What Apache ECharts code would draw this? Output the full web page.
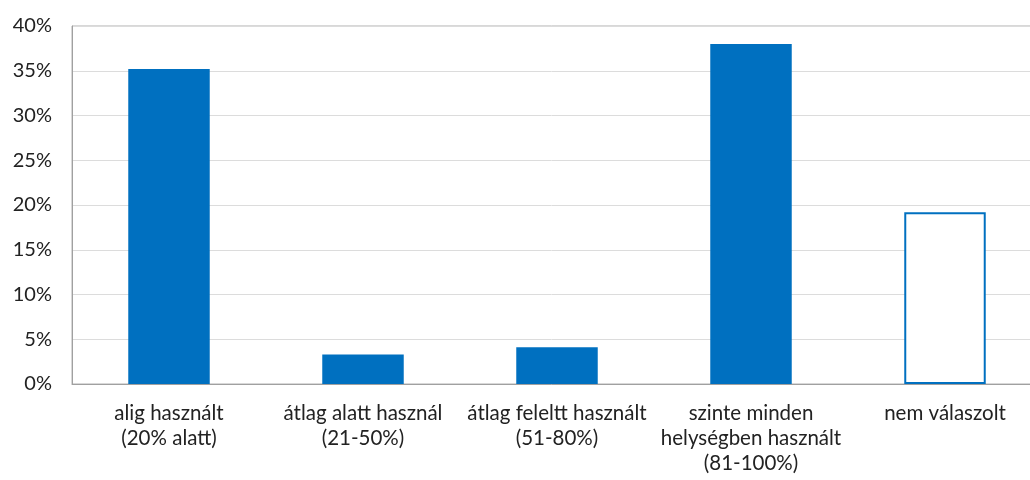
<!DOCTYPE html>
<html>
<head>
<meta charset="utf-8">
<script src="https://cdn.jsdelivr.net/npm/echarts@6/dist/echarts.min.js"></script>
<style>
  html, body { margin: 0; padding: 0; background: #fff; }
  #chart { width: 1030px; height: 480px; }
</style>
</head>
<body>
<div id="chart"></div>
<script>
const categories = [
  'alig használt\n(20% alatt)',
  'átlag alatt használ\n(21-50%)',
  'átlag feleltt használt\n(51-80%)',
  'szinte minden\nhelységben használt\n(81-100%)',
  'nem válaszolt'
]
// százalékos értékek
const values = [35.2, 3.3, 4.1, 38.0, 19.2]
const hollowIndex = 4

const BLUE = '#0070C0'
const FONT = 'Lato, "Open Sans", sans-serif'

const chart = echarts.init(document.getElementById('chart'))

chart.setOption({
  animation: false,
  grid: {
    left: 72, top: 26, bottom: 96, width: 970,
    outerBoundsMode: 'none', containLabel: false,
    show: true, borderColor: '#b0b0b0', borderWidth: 1
  },
  xAxis: {
    type: 'category',
    data: categories,
    axisTick: { show: false },
    axisLine: { lineStyle: { color: '#a0a0a0', width: 1 } },
    axisLabel: {
      fontFamily: FONT, fontSize: 20.5, color: '#222',
      lineHeight: 25, margin: 17, interval: 0
    }
  },
  yAxis: {
    type: 'value',
    min: 0, max: 40, interval: 5,
    axisLine: { show: true, lineStyle: { color: '#a0a0a0' } },
    axisTick: { show: false },
    splitLine: { lineStyle: { color: '#dcdcdc', width: 1 } },
    axisLabel: {
      fontFamily: FONT, fontSize: 20, color: '#222', margin: 20,
      formatter: v => v + '%'
    }
  },
  series: [{
    type: 'bar',
    barWidth: '42%',
    data: values.map((v, i) => i === hollowIndex
      ? { value: v, itemStyle: { color: '#fff', borderColor: BLUE, borderWidth: 2 } }
      : { value: v, itemStyle: { color: BLUE } })
  }]
})
</script>
</body>
</html>
